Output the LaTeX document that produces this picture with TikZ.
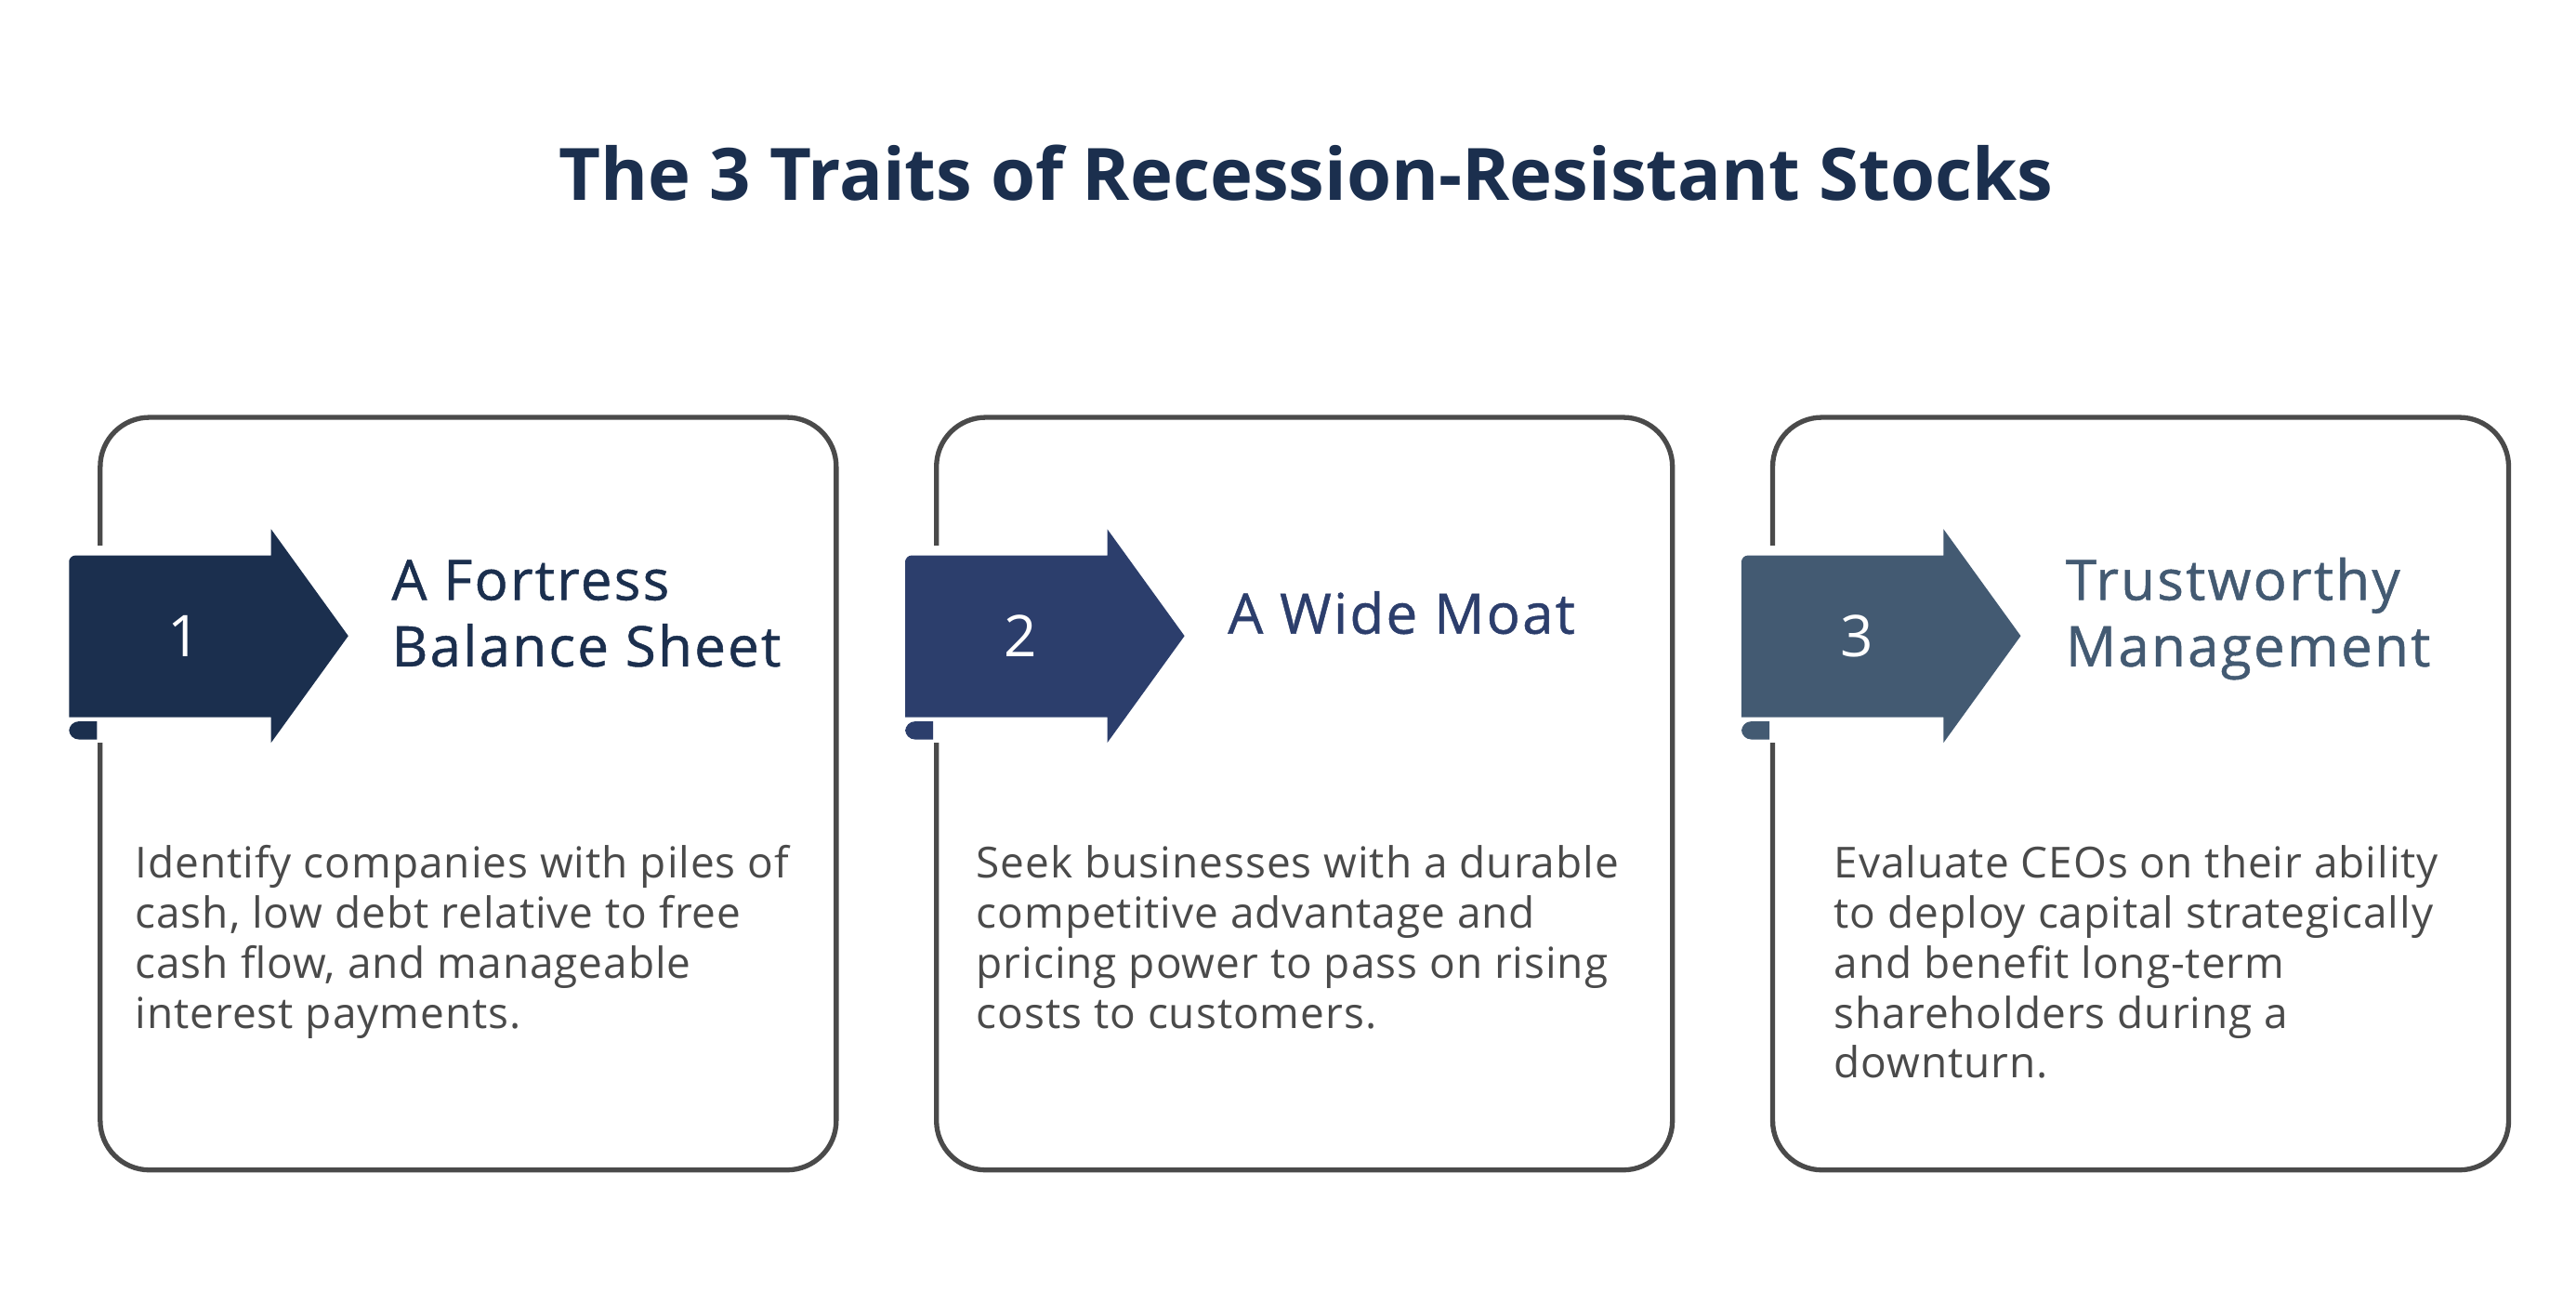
\documentclass[tikz,border=0pt]{standalone}
\usepackage{fontspec}
\setmainfont{Open Sans}
\newfontfamily\bodyfont{Open Sans}[LetterSpace=2.1]
\newfontfamily\headfont{Open Sans}[LetterSpace=3.7, FakeBold=0.8]
\usetikzlibrary{calc}
\definecolor{navyA}{HTML}{1B2F4E}
\definecolor{navyB}{HTML}{2C3E6C}
\definecolor{navyC}{HTML}{435A72}
\definecolor{boxline}{HTML}{4A4A4A}
\definecolor{bodygray}{HTML}{4A4A4A}
\tikzset{
  panelbox/.style={draw=boxline, line width=1.5pt, rounded corners=15pt},
  titletext/.style={font={\fontsize{22}{26}\selectfont\bfseries}, text=navyA, inner sep=0pt, anchor=base},
  headtext/.style={font={\headfont\fontsize{17}{20.2}\selectfont}, inner sep=0pt, anchor=base west, align=left},
  numtext/.style={font={\fontsize{17.5}{20}\selectfont}, text=white, inner sep=0pt},
  bodytext/.style={font={\bodyfont\fontsize{13}{15.2}\selectfont}, text=bodygray, inner sep=0pt, anchor=base west, align=left},
}
\begin{document}
\begin{tikzpicture}[x=0.5pt,y=-0.5pt]
\useasboundingbox[fill=white] (0,0) rectangle (1568,794);
\node[titletext] (title) at (795,122) {The 3 Traits of Recession-Resistant Stocks};

% panel drawing macro
\newcommand{\panel}[4]{% #1 x offset, #2 colour, #3 number, #4 name
  \begin{scope}[xshift=#1*0.5pt]
    \draw[panelbox] (61,254) rectangle (509,712);
    \fill[white] (58,332) rectangle (64.5,452);
    \fill[#2] (42,341) [rounded corners=2pt] -- (42,338) [sharp corners] -- (165,338) -- (165,322) -- (212,387) -- (165,452) -- (165,436.5) -- (42,436.5) -- cycle;
    \fill[#2] (59,439) -- (59,450) [rounded corners=3pt] -- (42,450) -- (42,439) [sharp corners] -- cycle;
    \node[numtext] (#4) at (112,387) {#3};
  \end{scope}
}
\panel{0}{navyA}{1}{num1}
\panel{509}{navyB}{2}{num2}
\panel{1018}{navyC}{3}{num3}

% anchor base = baseline of the last line
\node[headtext, text=navyA] (head1) at (238,405.5) {A Fortress\\Balance Sheet};
\node[headtext, text=navyB] (head2) at (747,385.6) {A Wide Moat};
\node[headtext, text=navyC] (head3) at (1257,405.5) {Trustworthy\\Management};

\node[bodytext] (body1) at (82,625.7) {Identify companies with piles of\\cash, low debt relative to free\\cash flow, and manageable\\interest payments.};
\node[bodytext] (body2) at (594,625.7) {Seek businesses with a durable\\competitive advantage and\\pricing power to pass on rising\\costs to customers.};
\node[bodytext] (body3) at (1116,656.1) {Evaluate CEOs on their ability\\to deploy capital strategically\\and benefit long-term\\shareholders during a\\downturn.};
\end{tikzpicture}
\end{document}
